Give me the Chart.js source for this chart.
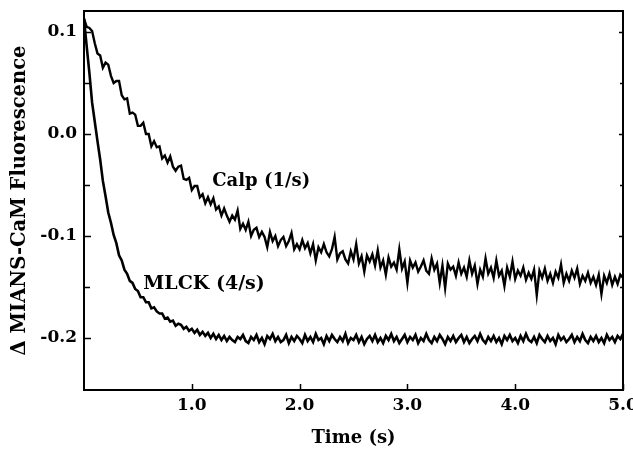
<!DOCTYPE html>
<html>
<head>
<meta charset="utf-8">
<script src="https://cdn.jsdelivr.net/npm/chart.js@4/dist/chart.umd.min.js"></script>
<style>
html,body{margin:0;padding:0;background:#fff;}
#wrap{width:633px;height:452px;}
</style>
</head>
<body>
<div id="wrap"><canvas id="c" width="633" height="452"></canvas></div>
<script>
// ---- data ----
const times = [
0,0.025,0.05,0.075,0.1,0.125,0.15,0.175,0.2,0.225,0.25,0.275,0.3,0.325,0.35,0.375,0.4,0.425,0.45,0.475,
0.5,0.525,0.55,0.575,0.6,0.625,0.65,0.675,0.7,0.725,0.75,0.775,0.8,0.825,0.85,0.875,0.9,0.925,0.95,0.975,
1.0,1.025,1.05,1.075,1.1,1.125,1.15,1.175,1.2,1.225,1.25,1.275,1.3,1.325,1.35,1.375,1.4,1.425,1.45,1.475,
1.5,1.525,1.55,1.575,1.6,1.625,1.65,1.675,1.7,1.725,1.75,1.775,1.8,1.825,1.85,1.875,1.9,1.925,1.95,1.975,
2.0,2.025,2.05,2.075,2.1,2.125,2.15,2.175,2.2,2.225,2.25,2.275,2.3,2.325,2.35,2.375,2.4,2.425,2.45,2.475,
2.5,2.525,2.55,2.575,2.6,2.625,2.65,2.675,2.7,2.725,2.75,2.775,2.8,2.825,2.85,2.875,2.9,2.925,2.95,2.975,
3.0,3.025,3.05,3.075,3.1,3.125,3.15,3.175,3.2,3.225,3.25,3.275,3.3,3.325,3.35,3.375,3.4,3.425,3.45,3.475,
3.5,3.525,3.55,3.575,3.6,3.625,3.65,3.675,3.7,3.725,3.75,3.775,3.8,3.825,3.85,3.875,3.9,3.925,3.95,3.975,
4.0,4.025,4.05,4.075,4.1,4.125,4.15,4.175,4.2,4.225,4.25,4.275,4.3,4.325,4.35,4.375,4.4,4.425,4.45,4.475,
4.5,4.525,4.55,4.575,4.6,4.625,4.65,4.675,4.7,4.725,4.75,4.775,4.8,4.825,4.85,4.875,4.9,4.925,4.95,4.975,
5.0
];
const calp = [
0.113,0.105,0.104,0.101,0.089,0.079,0.077,0.065,0.070,0.068,0.057,0.050,0.052,0.052,0.038,0.034,0.035,0.020,0.021,0.019,
0.008,0.008,0.011,0.000,0.000,-0.012,-0.007,-0.013,-0.012,-0.024,-0.021,-0.028,-0.022,-0.032,-0.036,-0.032,-0.031,-0.044,-0.045,-0.043,
-0.055,-0.051,-0.051,-0.062,-0.059,-0.068,-0.062,-0.069,-0.063,-0.074,-0.071,-0.080,-0.073,-0.080,-0.086,-0.080,-0.084,-0.075,-0.093,-0.088,
-0.094,-0.086,-0.100,-0.094,-0.092,-0.101,-0.096,-0.101,-0.111,-0.096,-0.105,-0.100,-0.110,-0.104,-0.101,-0.110,-0.105,-0.097,-0.113,-0.108,
-0.113,-0.104,-0.112,-0.107,-0.117,-0.108,-0.124,-0.111,-0.116,-0.108,-0.116,-0.120,-0.113,-0.101,-0.123,-0.117,-0.115,-0.123,-0.127,-0.115,
-0.123,-0.108,-0.127,-0.120,-0.135,-0.119,-0.125,-0.118,-0.129,-0.114,-0.131,-0.124,-0.138,-0.121,-0.130,-0.126,-0.133,-0.113,-0.132,-0.125,
-0.146,-0.124,-0.131,-0.126,-0.135,-0.130,-0.124,-0.134,-0.137,-0.122,-0.133,-0.127,-0.146,-0.129,-0.151,-0.127,-0.133,-0.130,-0.139,-0.126,
-0.137,-0.131,-0.140,-0.124,-0.137,-0.129,-0.147,-0.133,-0.140,-0.122,-0.137,-0.131,-0.141,-0.124,-0.139,-0.134,-0.149,-0.131,-0.140,-0.125,
-0.142,-0.134,-0.139,-0.131,-0.143,-0.136,-0.142,-0.133,-0.158,-0.134,-0.141,-0.132,-0.144,-0.137,-0.146,-0.135,-0.141,-0.128,-0.146,-0.137,
-0.144,-0.134,-0.141,-0.132,-0.147,-0.139,-0.144,-0.136,-0.146,-0.140,-0.148,-0.138,-0.157,-0.139,-0.146,-0.137,-0.148,-0.140,-0.147,-0.138,
-0.141
];
const mlck = [
0.113,0.086,0.060,0.031,0.012,-0.007,-0.025,-0.046,-0.061,-0.077,-0.087,-0.099,-0.107,-0.119,-0.124,-0.133,-0.137,-0.144,-0.146,-0.152,
-0.154,-0.160,-0.160,-0.165,-0.165,-0.171,-0.170,-0.174,-0.176,-0.176,-0.181,-0.180,-0.184,-0.183,-0.188,-0.186,-0.187,-0.191,-0.189,-0.193,
-0.191,-0.195,-0.192,-0.197,-0.194,-0.198,-0.195,-0.200,-0.196,-0.201,-0.197,-0.202,-0.198,-0.203,-0.199,-0.202,-0.204,-0.199,-0.201,-0.197,
-0.203,-0.205,-0.199,-0.202,-0.197,-0.204,-0.200,-0.206,-0.198,-0.201,-0.196,-0.203,-0.199,-0.204,-0.202,-0.197,-0.205,-0.199,-0.203,-0.198,
-0.201,-0.205,-0.197,-0.203,-0.199,-0.204,-0.196,-0.202,-0.200,-0.206,-0.198,-0.203,-0.197,-0.201,-0.204,-0.199,-0.203,-0.196,-0.205,-0.200,
-0.202,-0.197,-0.204,-0.199,-0.206,-0.201,-0.198,-0.203,-0.197,-0.204,-0.200,-0.205,-0.198,-0.202,-0.196,-0.203,-0.199,-0.205,-0.201,-0.197,
-0.204,-0.199,-0.202,-0.197,-0.205,-0.200,-0.203,-0.196,-0.202,-0.205,-0.199,-0.203,-0.197,-0.201,-0.206,-0.199,-0.203,-0.198,-0.204,-0.200,
-0.197,-0.204,-0.199,-0.205,-0.201,-0.198,-0.203,-0.196,-0.202,-0.205,-0.199,-0.203,-0.198,-0.204,-0.200,-0.206,-0.198,-0.202,-0.197,-0.203,
-0.200,-0.205,-0.198,-0.203,-0.196,-0.202,-0.204,-0.199,-0.205,-0.197,-0.201,-0.204,-0.198,-0.203,-0.200,-0.206,-0.197,-0.202,-0.199,-0.204,
-0.201,-0.197,-0.204,-0.199,-0.203,-0.196,-0.202,-0.205,-0.199,-0.203,-0.198,-0.204,-0.200,-0.205,-0.197,-0.202,-0.199,-0.204,-0.198,-0.201,
-0.196
];
const xTickValues = [1, 2, 3, 4, 5];
const xTickLabels = ["1.0", "2.0", "3.0", "4.0", "5.0"];
const yTickValues = [0.1, 0, -0.1, -0.2];
const yTickLabels = ["0.1", "0.0", "-0.1", "-0.2"];
const yMinorTicks = [0.05, -0.05, -0.15];
const seriesLabels = ["Calp (1/s)", "MLCK (4/s)"];
const xTitle = "Time (s)";
const yTitle = "\u0394 MIANS-CaM Fluorescence";

// ---- styling / layout (kept apart from data) ----
const FONT = "'DejaVu Serif', serif";
const annotations = [
  { text: seriesLabels[0], x: 1.19, y: -0.046, size: 18 },
  { text: seriesLabels[1], x: 0.55, y: -0.147, size: 19 }
];

const framePlugin = {
  id: 'frame',
  afterDraw(chart) {
    const ctx = chart.ctx, a = chart.chartArea;
    const xs = chart.scales.x, ys = chart.scales.y;
    ctx.save();
    ctx.strokeStyle = '#000';
    ctx.lineWidth = 2;
    ctx.strokeRect(a.left, a.top, a.right - a.left, a.bottom - a.top);
    ctx.lineWidth = 1.5;
    ctx.beginPath();
    xTickValues.forEach(v => {
      const px = Math.round(xs.getPixelForValue(v)) + 0.5;
      ctx.moveTo(px, a.bottom); ctx.lineTo(px, a.bottom - 6);
    });
    yTickValues.forEach(v => {
      const py = Math.round(ys.getPixelForValue(v)) + 0.5;
      ctx.moveTo(a.left, py); ctx.lineTo(a.left + 7, py);
      ctx.moveTo(a.right, py); ctx.lineTo(a.right - 4, py);
    });
    yMinorTicks.forEach(v => {
      const py = Math.round(ys.getPixelForValue(v)) + 0.5;
      ctx.moveTo(a.left, py); ctx.lineTo(a.left + 6, py);
      ctx.moveTo(a.right, py); ctx.lineTo(a.right - 3, py);
    });
    ctx.stroke();
    ctx.fillStyle = '#000';
    ctx.textBaseline = 'middle';
    ctx.textAlign = 'left';
    annotations.forEach(an => {
      ctx.font = "bold " + an.size + "px " + FONT;
      ctx.fillText(an.text, xs.getPixelForValue(an.x), ys.getPixelForValue(an.y));
    });
    ctx.restore();
  }
};

const toPts = (ys) => ys.map((v, i) => ({ x: times[i], y: v }));

new Chart(document.getElementById('c'), {
  type: 'line',
  data: {
    datasets: [
      { label: seriesLabels[0], data: toPts(calp), borderColor: '#000', borderWidth: 2.4, pointRadius: 0, tension: 0, fill: false },
      { label: seriesLabels[1], data: toPts(mlck), borderColor: '#000', borderWidth: 2.6, pointRadius: 0, tension: 0, fill: false }
    ]
  },
  options: {
    responsive: false,
    animation: false,
    events: [],
    layout: { padding: { top: 11, right: 10, bottom: 0, left: 0 } },
    plugins: { legend: { display: false }, tooltip: { enabled: false } },
    scales: {
      x: {
        type: 'linear', min: 0, max: 5,
        grid: { display: false, drawTicks: false },
        border: { display: false },
        afterBuildTicks: (s) => { s.ticks = xTickValues.map(v => ({ value: v })); },
        afterFit: (s) => { s.height = 62; s.paddingLeft = 0; s.paddingRight = 0; },
        ticks: {
          autoSkip: false, maxRotation: 0, padding: 5, color: '#000',
          font: { family: FONT, size: 17, weight: 'bold' },
          callback: (v) => { const i = xTickValues.indexOf(v); return i >= 0 ? xTickLabels[i] : ''; }
        },
        title: { display: true, text: xTitle, color: '#000', padding: { top: 3, bottom: 3 },
          font: { family: FONT, size: 18, weight: 'bold' } }
      },
      y: {
        type: 'linear', min: -0.251, max: 0.1206,
        grid: { display: false, drawTicks: false },
        border: { display: false },
        afterBuildTicks: (s) => { s.ticks = yTickValues.map(v => ({ value: v })); },
        afterFit: (s) => { s.width = 84; s.paddingTop = 0; s.paddingBottom = 0; },
        ticks: {
          autoSkip: false, padding: 7, color: '#000',
          font: { family: FONT, size: 17, weight: 'bold' },
          callback: (v) => { const i = yTickValues.findIndex(t => Math.abs(t - v) < 1e-9); return i >= 0 ? yTickLabels[i] : ''; }
        },
        title: { display: true, text: yTitle, color: '#000', padding: { top: 8, bottom: 8 },
          font: { family: FONT, size: 19.5, weight: 'bold' } }
      }
    }
  },
  plugins: [framePlugin]
});
</script>
</body>
</html>
